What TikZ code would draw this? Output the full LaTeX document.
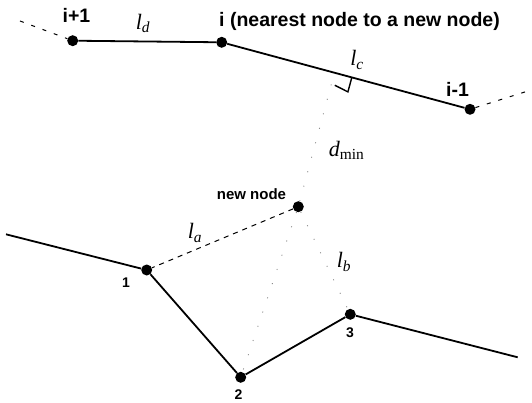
\documentclass[tikz,border=0pt]{standalone}
\usepackage{fontspec}
\setmainfont{Liberation Sans}
\newfontfamily\lenfont{Liberation Serif}
\usetikzlibrary{calc,positioning}

\newcommand{\lenlab}[1]{\textit{l}\textsubscript{\textit{#1}}}

\begin{document}
\begin{tikzpicture}[
  x=1pt, y=-1pt,
  vtx/.style={circle, fill, inner sep=0pt, minimum size=11pt},
  seg/.style={line width=1.8pt},
  ext/.style={line width=1pt, dash pattern=on 4pt off 8pt},
  guide/.style={line width=1pt, dash pattern=on 5pt off 5pt},
  faint/.style={line width=0.9pt, black!45, dash pattern=on 1pt off 14pt},
  tag/.style={font=\bfseries\fontsize{19.5}{22}\selectfont, inner sep=0pt},
  num/.style={font=\bfseries\fontsize{14}{16}\selectfont, inner sep=0pt},
  len/.style={font=\lenfont\fontsize{22}{24}\selectfont, inner sep=0pt}
]
\useasboundingbox (0,0) rectangle (532,403);

% upper chain
\node[vtx] (ip) at (72.7,40.7) {};
\node[vtx] (ni) at (221.7,42.3) {};
\node[vtx] (im) at (470,109.3) {};
\coordinate (ipend) at (20,21);
\coordinate (imend) at (528,91);

% lower chain
\coordinate (lend) at (6,234.3);
\node[vtx] (n1) at (146.7,270) {};
\node[vtx] (n2) at (240.7,377.3) {};
\node[vtx] (n3) at (350.3,314.3) {};
\coordinate (rend) at (517.7,357.3);
\node[vtx] (nn) at (298.3,206.7) {};

\draw[seg] (ip) -- (ni) -- (im);
\draw[ext] (ipend) -- (ip);
\draw[ext] (im) -- (imend);
\draw[seg] (lend) -- (n1) -- (n2) -- (n3) -- (rend);
\draw[guide] (nn) -- (n1);
\draw[faint] (nn) -- (n2);
\draw[faint] (nn) -- (n3);

% shortest distance to segment i, i-1
\coordinate (foot) at ($(ni)!(nn)!(im)$);
\draw[faint] (nn) -- (foot);
\coordinate (ma) at ($(foot)!18pt!(im)$);
\coordinate (mc) at ($(foot)!15pt!(nn)$);
\draw[line width=1.4pt] (ma) -- ($(ma)+(mc)-(foot)$) -- ($(mc)!0.2!(ma)$);

% labels
\node[tag, anchor=base] (lip) at (76.5,23) {i+1};
\node[tag, anchor=base west] (lni) at (219,27) {i (nearest node to a new node)};
\node[tag, anchor=base] (lim) at (457.5,97) {i-1};
\node[len] (ld) at (143,23.5) {\lenlab{d}};
\node[len] (lc) at (357,60) {\lenlab{c}};
\node[font=\lenfont\fontsize{22}{24}\selectfont, inner sep=0pt] (dmin) at (346.5,150) {\textit{d}\textsubscript{min}};
\node[font=\bfseries\fontsize{15}{17}\selectfont, inner sep=0pt, anchor=base] (lnn) at (251.5,200) {new node};
\node[len] (la) at (195,233) {\lenlab{a}};
\node[len] (lb) at (344,262) {\lenlab{b}};
\node[num, anchor=base] (l1) at (126,287) {1};
\node[num, anchor=base] (l2) at (238.5,399.5) {2};
\node[num, anchor=base] (l3) at (350,337) {3};
\end{tikzpicture}
\end{document}
